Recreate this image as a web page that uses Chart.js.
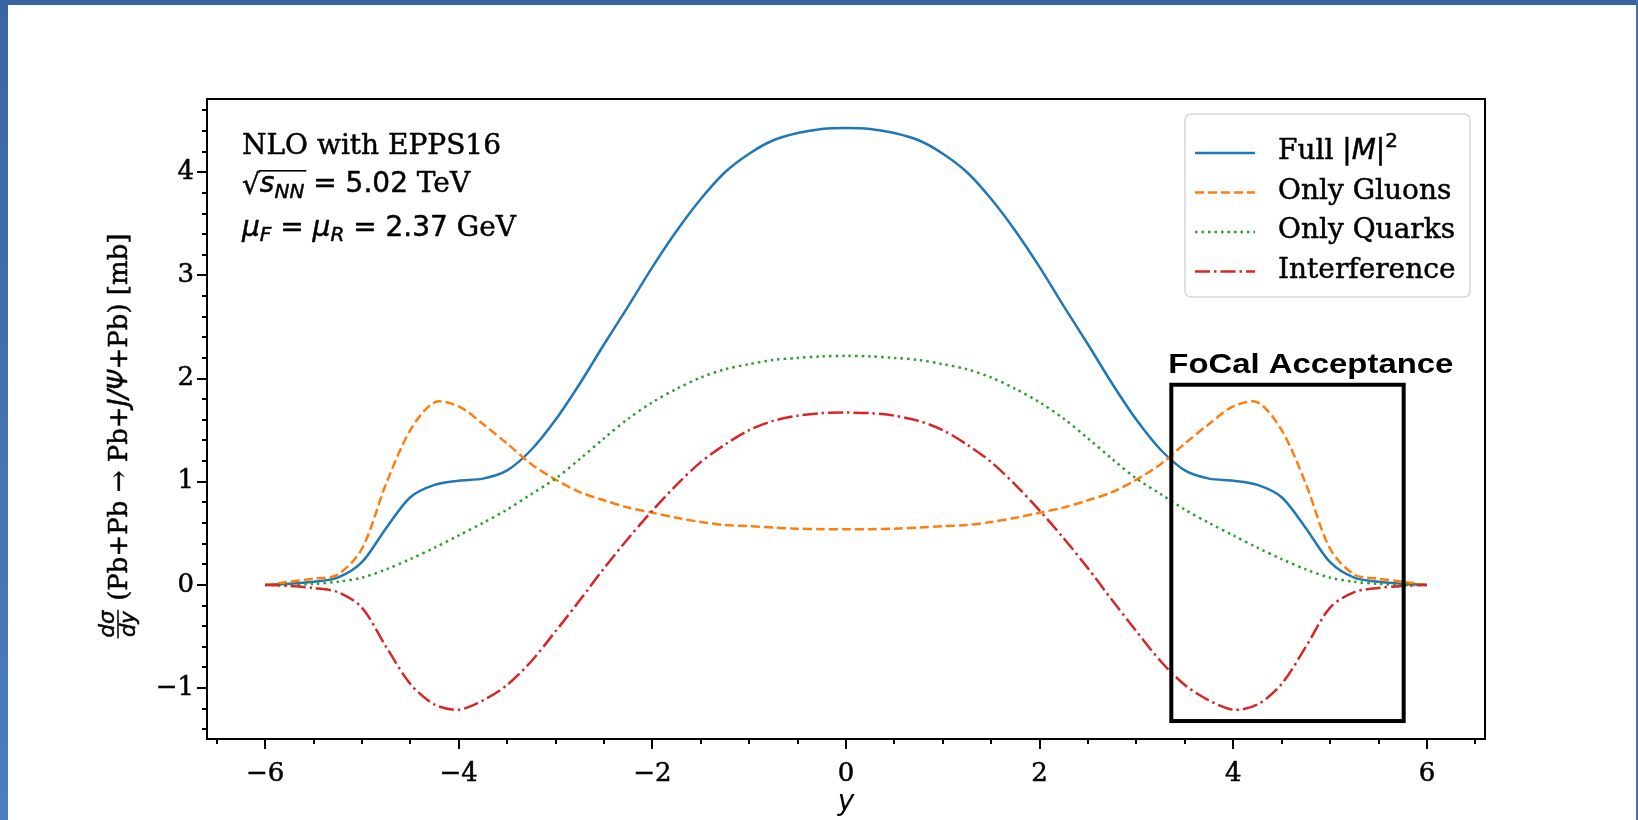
<!DOCTYPE html>
<html>
<head>
<meta charset="utf-8">
<title>J/psi rapidity distribution</title>
<script src="https://cdn.jsdelivr.net/npm/chart.js@4.4.1/dist/chart.umd.min.js"></script>
<style>
  html, body { margin: 0; padding: 0; background: #fff; }
  body { width: 1638px; height: 820px; overflow: hidden; position: relative; }
  .edge-top { position: absolute; left: 0; top: 0; width: 1638px; height: 5px; background: #3a62a0; }
  .edge-left { position: absolute; left: 0; top: 0; width: 8px; height: 820px; background: linear-gradient(#3b64a2, #4d7dbd); }
  .edge-right { position: absolute; right: 0; top: 0; width: 2px; height: 820px; background: #4772ae; }
  #plot { position: absolute; left: 0; top: 0; }
</style>
</head>
<body>
<div class="edge-top"></div>
<div class="edge-left"></div>
<div class="edge-right"></div>
<canvas id="plot" width="1638" height="820"></canvas>
<script>
// rapidity grid
const RAPIDITY = [-6, -5.75, -5.5, -5.25, -5, -4.75, -4.5, -4.25, -4, -3.75, -3.5, -3.25, -3, -2.75, -2.5, -2.25, -2, -1.75, -1.5, -1.25, -1, -0.75, -0.5, -0.25,
  0, 0.25, 0.5, 0.75, 1, 1.25, 1.5, 1.75, 2, 2.25, 2.5, 2.75, 3, 3.25, 3.5, 3.75, 4, 4.25, 4.5, 4.75, 5, 5.25, 5.5, 5.75, 6];

// dsigma/dy [mb]
const FULL_M2 = [0.00, 0.01, 0.03, 0.07, 0.22, 0.55, 0.85, 0.97, 1.01, 1.03, 1.11, 1.31, 1.60, 1.95, 2.33, 2.70, 3.08, 3.43, 3.74, 4.00, 4.18, 4.31, 4.38, 4.42,
  4.43, 4.42, 4.38, 4.31, 4.18, 4.00, 3.74, 3.43, 3.08, 2.70, 2.33, 1.95, 1.60, 1.31, 1.11, 1.03, 1.01, 0.97, 0.85, 0.55, 0.22, 0.07, 0.03, 0.01, 0.00];
const ONLY_GLUONS = [0.00, 0.03, 0.06, 0.10, 0.35, 0.98, 1.50, 1.77, 1.73, 1.56, 1.37, 1.17, 1.02, 0.90, 0.82, 0.75, 0.70, 0.65, 0.61, 0.58, 0.57, 0.555, 0.545, 0.54,
  0.54, 0.54, 0.545, 0.555, 0.57, 0.58, 0.61, 0.65, 0.70, 0.75, 0.82, 0.90, 1.02, 1.17, 1.37, 1.56, 1.73, 1.77, 1.50, 0.98, 0.35, 0.10, 0.06, 0.03, 0.00];
const ONLY_QUARKS = [0.00, 0.00, 0.01, 0.03, 0.07, 0.15, 0.25, 0.36, 0.48, 0.60, 0.73, 0.88, 1.03, 1.22, 1.42, 1.61, 1.77, 1.90, 2.01, 2.09, 2.14, 2.18, 2.20, 2.215,
  2.22, 2.215, 2.20, 2.18, 2.14, 2.09, 2.01, 1.90, 1.77, 1.61, 1.42, 1.22, 1.03, 0.88, 0.73, 0.60, 0.48, 0.36, 0.25, 0.15, 0.07, 0.03, 0.01, 0.00, 0.00];
const INTERFERENCE = [0.00, -0.01, -0.03, -0.07, -0.22, -0.60, -0.96, -1.16, -1.21, -1.12, -0.97, -0.74, -0.45, -0.15, 0.16, 0.45, 0.72, 0.97, 1.19, 1.36, 1.50, 1.59, 1.64, 1.665,
  1.67, 1.665, 1.64, 1.59, 1.50, 1.36, 1.19, 0.97, 0.72, 0.45, 0.16, -0.15, -0.45, -0.74, -0.97, -1.12, -1.21, -1.16, -0.96, -0.60, -0.22, -0.07, -0.03, -0.01, 0.00];

const SERIES_LABELS = ["Full |M|²", "Only Gluons", "Only Quarks", "Interference"];

const X_TICKS = [-6, -4, -2, 0, 2, 4, 6];
const Y_TICKS = [-1, 0, 1, 2, 3, 4];
const X_RANGE = [-6.6, 6.6];
const Y_RANGE = [-1.494, 4.71];

// FoCal acceptance box, in data units
const FOCAL_Y = [3.36, 5.76];
const FOCAL_SIGMA = [-1.32, 1.94];

function pairs(ys) { return RAPIDITY.map((x, i) => ({ x: x, y: ys[i] })); }
function minusFmt(v) { return v < 0 ? "\u2212" + Math.abs(v) : String(v); }

const SERIF = '"DejaVu Serif", serif';
const SANS = '"DejaVu Sans", sans-serif';
const INK = 0.5; // the scanned figure has slightly heavy text

function txt(ctx, s, x, y) {
  ctx.fillText(s, x, y);
  ctx.strokeText(s, x, y);
}

function runs(ctx, parts, x, y) {
  let cx = x;
  parts.forEach(function (p) {
    ctx.font = p[1];
    txt(ctx, p[0], cx, y + (p[2] || 0));
    cx += ctx.measureText(p[0]).width;
  });
  return cx;
}

const decor = {
  id: "decor",
  afterDatasetsDraw(chart) {
    const { ctx, scales: { x, y } } = chart;
    // FoCal box
    const x0 = x.getPixelForValue(FOCAL_Y[0]), x1 = x.getPixelForValue(FOCAL_Y[1]);
    const y0 = y.getPixelForValue(FOCAL_SIGMA[1]), y1 = y.getPixelForValue(FOCAL_SIGMA[0]);
    ctx.save();
    ctx.strokeStyle = "#000";
    ctx.lineWidth = 4;
    ctx.strokeRect(x0, y0, x1 - x0, y1 - y0);
    ctx.font = 'bold 28px "Liberation Sans", Arial, sans-serif';
    ctx.fillStyle = "#000";
    ctx.textBaseline = "alphabetic";
    const lbl = "FoCal Acceptance";
    const w = ctx.measureText(lbl).width;
    ctx.translate(x0 - 3, y0 - 12);
    ctx.scale(285 / w, 1);
    ctx.fillText(lbl, 0, 0);
    ctx.restore();
  },
  afterDraw(chart) {
    const { ctx, chartArea: a, scales: { x, y } } = chart;
    ctx.save();
    ctx.fillStyle = "#000";
    ctx.strokeStyle = "#000";

    // spines
    ctx.lineWidth = 2;
    ctx.strokeRect(a.left, a.top, a.right - a.left, a.bottom - a.top);

    // ticks, outward like matplotlib
    ctx.lineWidth = 2;
    ctx.beginPath();
    for (let v = Math.ceil(X_RANGE[0] * 2) / 2; v <= X_RANGE[1]; v += 0.5) {
      const px = Math.round(x.getPixelForValue(v));
      const major = X_TICKS.indexOf(v) >= 0;
      ctx.moveTo(px, a.bottom);
      ctx.lineTo(px, a.bottom + (major ? 10 : 5));
    }
    for (let k = Math.ceil(Y_RANGE[0] * 5); k <= Math.floor(Y_RANGE[1] * 5); k++) {
      const v = k / 5;
      const py = Math.round(y.getPixelForValue(v));
      const major = k % 5 === 0;
      ctx.moveTo(a.left, py);
      ctx.lineTo(a.left - (major ? 10 : 5), py);
    }
    ctx.stroke();

    ctx.lineWidth = INK;
    ctx.lineJoin = "round";

    // annotation, top left
    ctx.textAlign = "left";
    ctx.textBaseline = "alphabetic";
    const L = a.left + 35;
    ctx.font = "28px " + SERIF;
    txt(ctx, "NLO with EPPS16", L, a.top + 55);
    const b2 = a.top + 93;
    ctx.font = "28px " + SANS;
    txt(ctx, "\u221A", L, b2 + 2);
    let px = L + ctx.measureText("\u221A").width;
    const ov = px;
    px = runs(ctx, [["s", "italic 28px " + SANS], ["NN", "italic 20px " + SANS, 6]], px, b2);
    ctx.fillRect(ov - 1, b2 - 22, px - ov + 3, 1.6);
    runs(ctx, [[" = 5.02", "28px " + SANS], [" TeV", "28px " + SERIF]], px, b2);
    const b3 = a.top + 137;
    runs(ctx, [["\u03BC", "italic 28px " + SANS], ["F", "italic 20px " + SANS, 5], [" = ", "28px " + SANS],
      ["\u03BC", "italic 28px " + SANS], ["R", "italic 20px " + SANS, 5], [" = 2.37", "28px " + SANS], [" GeV", "28px " + SERIF]], L, b3);

    // legend
    const fx0 = a.right - 300, fx1 = a.right - 15, fy0 = a.top + 15, fy1 = a.top + 198;
    ctx.lineWidth = 1.5;
    ctx.strokeStyle = "#d6d6d6";
    ctx.beginPath();
    ctx.roundRect(fx0, fy0, fx1 - fx0, fy1 - fy0, 6);
    ctx.stroke();
    chart.data.datasets.forEach(function (ds, i) {
      const base = a.top + 60 + i * 39.5;
      const ly = base - 6;
      ctx.strokeStyle = ds.borderColor;
      ctx.lineWidth = ds.borderWidth;
      ctx.setLineDash(ds.borderDash || []);
      ctx.beginPath();
      ctx.moveTo(fx0 + 10, ly);
      ctx.lineTo(fx0 + 70, ly);
      ctx.stroke();
      ctx.setLineDash([]);
      ctx.strokeStyle = "#000";
      ctx.lineWidth = INK;
      const tx = fx0 + 93;
      if (i === 0) {
        runs(ctx, [["Full ", "28px " + SERIF], ["|", "28px " + SANS], ["M", "italic 28px " + SANS], ["|", "28px " + SANS], ["2", "20px " + SANS, -12]], tx, base);
      } else {
        ctx.font = "28px " + SERIF;
        txt(ctx, ds.label, tx, base);
      }
    });

    // y-axis title with small fraction
    ctx.save();
    ctx.translate(118, 436);
    ctx.rotate(-Math.PI / 2);
    const fracFont = "italic 21px " + SANS;
    const parts = [["(Pb+Pb \u2192 Pb+", "26px " + SERIF], ["J/\u03A8", "italic 26px " + SANS], ["+Pb) [mb]", "26px " + SERIF]];
    ctx.font = fracFont;
    const fw = Math.max(ctx.measureText("d\u03C3").width, ctx.measureText("dy").width) + 2;
    let mw = 0;
    parts.forEach(function (p) { ctx.font = p[1]; mw += ctx.measureText(p[0]).width; });
    const gap = 9;
    const sx = -(fw + gap + mw) / 2;
    ctx.font = fracFont;
    ctx.textAlign = "center";
    txt(ctx, "d\u03C3", sx + fw / 2, -4);
    txt(ctx, "dy", sx + fw / 2, 17);
    ctx.fillRect(sx, -0.75, fw, 1.5);
    ctx.textAlign = "left";
    runs(ctx, parts, sx + fw + gap, 9);
    ctx.restore();

    ctx.restore();
  }
};

function run() {
  const canvas = document.getElementById("plot");
  if (!canvas || !window.Chart) return;

  const tickFont = { family: SERIF, size: 26 };

  new Chart(canvas.getContext("2d"), {
    type: "line",
    data: {
      datasets: [
        { label: SERIES_LABELS[0], data: pairs(FULL_M2), borderColor: "#1f77b4", borderWidth: 2.5, order: 4 },
        { label: SERIES_LABELS[1], data: pairs(ONLY_GLUONS), borderColor: "#ff7f0e", borderWidth: 2.5, borderDash: [9, 4], order: 3 },
        { label: SERIES_LABELS[2], data: pairs(ONLY_QUARKS), borderColor: "#2ca02c", borderWidth: 2.5, borderDash: [2.5, 4], order: 2 },
        { label: SERIES_LABELS[3], data: pairs(INTERFERENCE), borderColor: "#d62728", borderWidth: 2.5, borderDash: [15, 4, 2.5, 4], order: 1 },
      ],
    },
    options: {
      responsive: false,
      animation: false,
      events: [],
      layout: { padding: { left: 0, top: 99, right: 153, bottom: 0 } },
      elements: {
        point: { radius: 0 },
        line: { tension: 0.3, fill: false },
      },
      plugins: { legend: { display: false }, tooltip: { enabled: false } },
      scales: {
        x: {
          type: "linear",
          min: X_RANGE[0],
          max: X_RANGE[1],
          afterBuildTicks: function (s) { s.ticks = X_TICKS.map(function (v) { return { value: v }; }); },
          afterFit: function (s) { s.height = 81; },
          grid: { display: false, drawTicks: false },
          border: { display: false },
          ticks: { color: "#000", padding: 20, maxRotation: 0, font: tickFont, textStrokeColor: "#000", textStrokeWidth: INK, callback: minusFmt },
          title: { display: true, text: "y", color: "#000", padding: { top: 0, bottom: 0 }, font: { family: SANS, size: 28, style: "italic" } },
        },
        y: {
          type: "linear",
          min: Y_RANGE[0],
          max: Y_RANGE[1],
          afterBuildTicks: function (s) { s.ticks = Y_TICKS.map(function (v) { return { value: v }; }); },
          afterFit: function (s) { s.width = 207; },
          grid: { display: false, drawTicks: false },
          border: { display: false },
          ticks: { color: "#000", padding: 13, font: tickFont, textStrokeColor: "#000", textStrokeWidth: INK, callback: minusFmt },
        },
      },
    },
    plugins: [decor],
  });
}

if (document.readyState === "loading") {
  document.addEventListener("DOMContentLoaded", run);
} else {
  run();
}
</script>
</body>
</html>
